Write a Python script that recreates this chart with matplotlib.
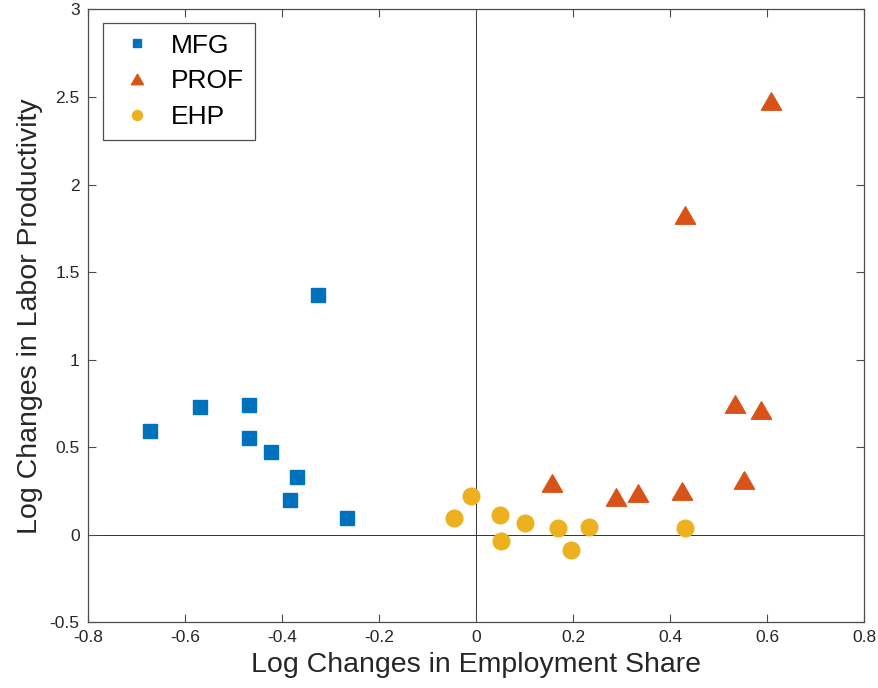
import numpy as np
import matplotlib
matplotlib.use("Agg")
import matplotlib.pyplot as plt
from matplotlib.path import Path

# data
mfg_x = [-0.673, -0.569, -0.469, -0.468, -0.422, -0.369, -0.384, -0.326, -0.265]
mfg_y = [0.592, 0.730, 0.739, 0.552, 0.469, 0.331, 0.198, 1.366, 0.095]

prof_x = [0.608, 0.432, 0.535, 0.588, 0.553, 0.157, 0.289, 0.335, 0.424]
prof_y = [2.475, 1.824, 0.745, 0.709, 0.312, 0.293, 0.215, 0.238, 0.250]

ehp_x = [-0.045, -0.011, 0.049, 0.051, 0.102, 0.169, 0.196, 0.234, 0.431]
ehp_y = [0.093, 0.219, 0.110, -0.036, 0.063, 0.036, -0.086, 0.042, 0.036]

x_ticks = [-0.8, -0.6, -0.4, -0.2, 0, 0.2, 0.4, 0.6, 0.8]
y_ticks = [-0.5, 0, 0.5, 1, 1.5, 2, 2.5, 3]

blue = "#0072BD"
orange = "#D95319"
yellow = "#EDB120"
axcol = "#4d4d4d"

plt.rcParams["font.family"] = ["Liberation Sans", "DejaVu Sans"]

# equilateral triangle like matlab's '^'
tri = Path([(-1, -0.866), (1, -0.866), (0, 0.866), (-1, -0.866)],
           [Path.MOVETO, Path.LINETO, Path.LINETO, Path.CLOSEPOLY])

fig = plt.figure(figsize=(8.79, 6.88), dpi=100)
ax = fig.add_axes([0.1001, 0.0959, 0.8828, 0.8903])

ax.axhline(0, color="#333333", lw=0.7, zorder=1)
ax.axvline(0, color="#333333", lw=0.7, zorder=1)

ax.plot(mfg_x, mfg_y, ls="none", marker="s", ms=10, color=blue, mec=blue, label="MFG", zorder=3)
ax.plot(prof_x, prof_y, ls="none", marker=tri, ms=14.5, color=orange, mec=orange, label="PROF", zorder=3)
ax.plot(ehp_x, ehp_y, ls="none", marker="o", ms=12, color=yellow, mec=yellow, label="EHP", zorder=3)

ax.set_xlim(-0.8, 0.8)
ax.set_ylim(-0.5, 3)
ax.set_xticks(x_ticks)
ax.set_yticks(y_ticks)
ax.set_xticklabels([f"{t:g}" for t in x_ticks])
ax.set_yticklabels([f"{t:g}" for t in y_ticks])
ax.tick_params(direction="in", length=6, width=0.8, color=axcol, pad=6,
               labelsize=12.5, top=True, right=True, labelcolor="#262626")
for s in ax.spines.values():
    s.set_color(axcol)
    s.set_linewidth(0.9)

ax.set_xlabel("Log Changes in Employment Share", fontsize=20.5, color="#262626", labelpad=5)
ax.set_ylabel("Log Changes in Labor Productivity", fontsize=20.5, color="#262626", labelpad=5)

leg = ax.legend(loc="upper left", bbox_to_anchor=(0.019, 0.978), borderaxespad=0,
                fontsize=19, markerscale=0.6, fancybox=False, framealpha=1,
                edgecolor=axcol, handlelength=1.8, handletextpad=0.4,
                labelspacing=0.45, borderpad=0.4)
leg.get_frame().set_linewidth(0.9)

fig.savefig("out.png", dpi=100)
